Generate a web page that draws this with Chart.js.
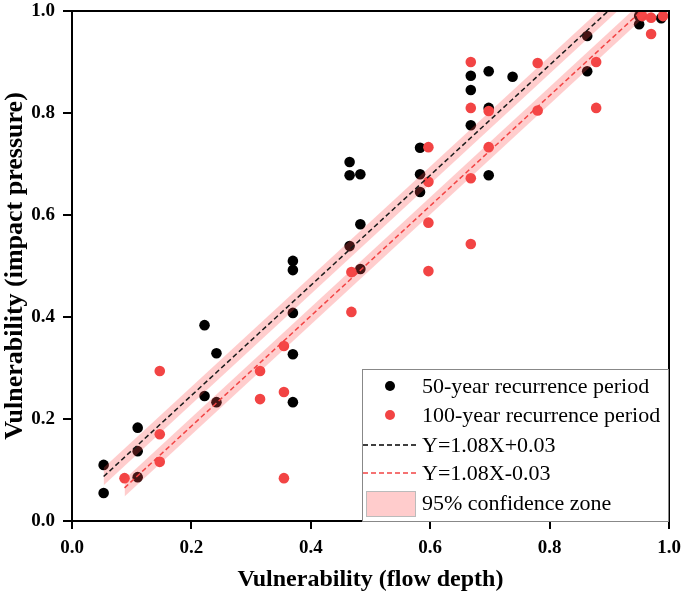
<!DOCTYPE html>
<html>
<head>
<meta charset="utf-8">
<script src="https://cdn.jsdelivr.net/npm/chart.js@4.4.0/dist/chart.umd.min.js"></script>
<style>
  body { margin: 0; background: #fff; }
  #wrap { width: 685px; height: 598px; position: relative; }
</style>
</head>
<body>
<div id="wrap"><canvas id="VulnChart"></canvas></div>
<script>
// 50-year recurrence period points
var x50 = [0.053, 0.053, 0.11, 0.11, 0.11, 0.222, 0.222, 0.242, 0.242, 0.37, 0.37, 0.37, 0.37, 0.37,
  0.465, 0.465, 0.465, 0.483, 0.483, 0.483, 0.583, 0.583, 0.583, 0.668, 0.668, 0.668,
  0.698, 0.698, 0.698, 0.738, 0.863, 0.863, 0.95, 0.95, 0.987];
var y50 = [0.11, 0.055, 0.183, 0.137, 0.086, 0.384, 0.245, 0.329, 0.233, 0.51, 0.492, 0.408, 0.327, 0.233,
  0.704, 0.678, 0.539, 0.68, 0.582, 0.494, 0.732, 0.68, 0.645, 0.873, 0.845, 0.776,
  0.882, 0.81, 0.678, 0.871, 0.951, 0.882, 0.974, 0.99, 0.986];

// 100-year recurrence period points
var x100 = [0.088, 0.147, 0.147, 0.147, 0.315, 0.315, 0.355, 0.355, 0.355, 0.468, 0.468,
  0.597, 0.597, 0.597, 0.597, 0.668, 0.668, 0.668, 0.668, 0.698, 0.698, 0.78, 0.78,
  0.878, 0.878, 0.955, 0.97, 0.97, 0.99];
var y100 = [0.084, 0.294, 0.17, 0.116, 0.294, 0.239, 0.343, 0.253, 0.084, 0.488, 0.41,
  0.733, 0.665, 0.585, 0.49, 0.90, 0.81, 0.672, 0.543, 0.804, 0.733, 0.898, 0.805,
  0.90, 0.81, 0.99, 0.955, 0.987, 0.99];

// fitted lines (from legend) and their x ranges
var slope = 1.08;
var intercept50 = 0.03;
var intercept100 = -0.03;
var lineX50 = [0.053, 1.0];
var lineX100 = [0.088, 1.0];
var bandHalf = 0.017;

var tickValues = [0, 0.2, 0.4, 0.6, 0.8, 1.0];

var legendLabels = ['50-year recurrence period', '100-year recurrence period',
  'Y=1.08X+0.03', 'Y=1.08X-0.03', '95% confidence zone'];

var RED = '#f24444';
var BAND = 'rgba(255, 75, 75, 0.28)';
var SERIF = '"Liberation Serif", "Times New Roman", serif';

function pts(xs, ys) {
  return xs.map(function (x, i) { return { x: x, y: ys[i] }; });
}
function fitLine(xs, b, off) {
  return xs.map(function (x) { return { x: x, y: slope * x + b + off }; });
}

// frame + legend box drawn on canvas
var framePlugin = {
  id: 'frame',
  afterDraw: function (chart) {
    var c = chart.ctx, a = chart.chartArea;
    c.save();
    c.strokeStyle = '#000';
    c.lineWidth = 2;
    c.beginPath();
    c.moveTo(a.left, a.top); c.lineTo(a.right, a.top); c.lineTo(a.right, a.bottom);
    c.stroke();

    // legend
    var lx = 362, ly = 369, lw = a.right - 362, lh = a.bottom - 369;
    c.fillStyle = '#fff';
    c.fillRect(lx, ly, lw, lh);
    c.strokeStyle = '#888';
    c.lineWidth = 1;
    c.strokeRect(lx + 0.5, ly + 0.5, lw - 1, lh);
    c.font = '22px ' + SERIF;
    c.textBaseline = 'middle';
    c.textAlign = 'left';
    var rows = [386, 415, 445, 473, 503];
    var tx = 422;
    c.fillStyle = '#000';
    c.beginPath(); c.arc(390, rows[0], 5, 0, Math.PI * 2); c.fill();
    c.fillStyle = RED;
    c.beginPath(); c.arc(390, rows[1], 5, 0, Math.PI * 2); c.fill();
    c.setLineDash([5, 3]);
    c.lineWidth = 1.5;
    c.strokeStyle = '#000';
    c.beginPath(); c.moveTo(363, rows[2]); c.lineTo(416, rows[2]); c.stroke();
    c.strokeStyle = RED;
    c.beginPath(); c.moveTo(363, rows[3]); c.lineTo(416, rows[3]); c.stroke();
    c.setLineDash([]);
    c.fillStyle = '#ffcccc';
    c.fillRect(366, 491, 50, 26);
    c.strokeStyle = '#bbb';
    c.lineWidth = 1;
    c.strokeRect(366.5, 491.5, 49, 25);
    c.fillStyle = '#000';
    legendLabels.forEach(function (t, i) { c.fillText(t, tx, rows[i] + 1); });
    c.restore();
  }
};

var ctx = document.getElementById('VulnChart').getContext('2d');
var myChart = new Chart(ctx, {
  type: 'scatter',
  data: {
    datasets: [
      {
        label: '50-year recurrence period',
        data: pts(x50, y50),
        backgroundColor: '#000',
        borderWidth: 0,
        pointRadius: 5.3,
        order: 3
      },
      {
        label: '100-year recurrence period',
        data: pts(x100, y100),
        backgroundColor: RED,
        borderWidth: 0,
        pointRadius: 5.3,
        order: 2
      },
      // confidence bands
      { type: 'line', data: fitLine(lineX50, intercept50, bandHalf), borderWidth: 0, pointRadius: 0, fill: '+1', backgroundColor: BAND, order: 1 },
      { type: 'line', data: fitLine(lineX50, intercept50, -bandHalf), borderWidth: 0, pointRadius: 0, fill: false, order: 1 },
      { type: 'line', data: fitLine(lineX100, intercept100, bandHalf), borderWidth: 0, pointRadius: 0, fill: '+1', backgroundColor: BAND, order: 1 },
      { type: 'line', data: fitLine(lineX100, intercept100, -bandHalf), borderWidth: 0, pointRadius: 0, fill: false, order: 1 },
      // fit lines
      { type: 'line', label: 'Y=1.08X+0.03', data: fitLine(lineX50, intercept50, 0), borderColor: '#1a1a1a', borderWidth: 1.5, borderDash: [5, 3], pointRadius: 0, fill: false, order: 0 },
      { type: 'line', label: 'Y=1.08X-0.03', data: fitLine(lineX100, intercept100, 0), borderColor: RED, borderWidth: 1.5, borderDash: [5, 3], pointRadius: 0, fill: false, order: 0 }
    ]
  },
  options: {
    responsive: true,
    maintainAspectRatio: false,
    animation: false,
    layout: { padding: { top: 11, right: 16, left: 0, bottom: 0 } },
    plugins: {
      legend: { display: false },
      tooltip: { enabled: false }
    },
    scales: {
      x: {
        type: 'linear',
        min: 0, max: 1,
        afterFit: function (s) { s.height = 77; s.paddingLeft = 0; s.paddingRight = 0; },
        afterBuildTicks: function (s) { s.ticks = tickValues.map(function (v) { return { value: v }; }); },
        border: { color: '#000', width: 2 },
        grid: { drawOnChartArea: false, color: '#000', lineWidth: 2, tickLength: 8 },
        ticks: {
          color: '#000',
          padding: 8,
          font: { family: SERIF, size: 19, weight: 'bold' },
          callback: function (v) { return v.toFixed(1); }
        },
        title: {
          display: true,
          text: 'Vulnerability (flow depth)',
          color: '#000',
          padding: { top: 5 },
          font: { family: SERIF, size: 24, weight: 'bold' }
        }
      },
      y: {
        type: 'linear',
        min: 0, max: 1,
        afterFit: function (s) { s.width = 72; s.paddingTop = 0; s.paddingBottom = 0; },
        afterBuildTicks: function (s) { s.ticks = tickValues.map(function (v) { return { value: v }; }); },
        border: { color: '#000', width: 2 },
        grid: { drawOnChartArea: false, color: '#000', lineWidth: 2, tickLength: 9 },
        ticks: {
          color: '#000',
          padding: 8,
          font: { family: SERIF, size: 19, weight: 'bold' },
          callback: function (v) { return v.toFixed(1); }
        },
        title: {
          display: true,
          text: 'Vulnerability (impact pressure)',
          color: '#000',
          padding: { bottom: 0, top: 0 },
          font: { family: SERIF, size: 26, weight: 'bold' }
        }
      }
    }
  },
  plugins: [framePlugin]
});
</script>
</body>
</html>
